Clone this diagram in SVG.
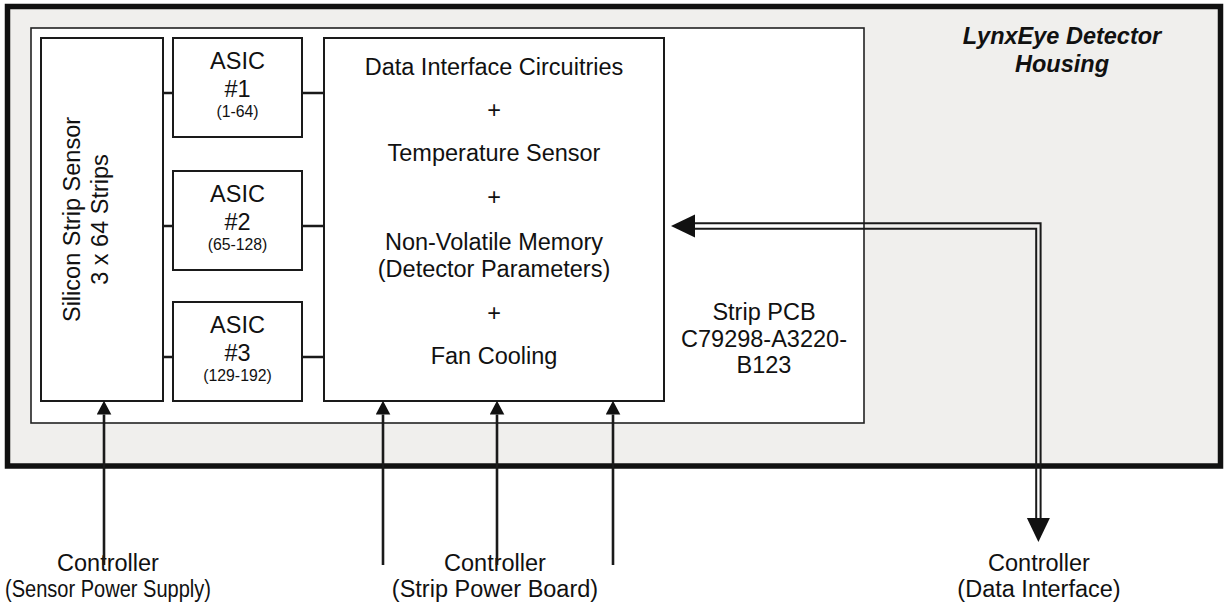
<svg xmlns="http://www.w3.org/2000/svg" width="1227" height="607" viewBox="0 0 1227 607">
<style>
text{font-family:"Liberation Sans",Arial,Helvetica,sans-serif;font-size:23.5px;fill:#111;text-anchor:middle}
.small{font-size:15.8px}
.title{font-weight:bold;font-style:italic}
.box{fill:#fff;stroke:#1a1a1a;stroke-width:2}
.wire{fill:none;stroke:#1a1a1a;stroke-width:2.6}
.dbl{fill:none;stroke:#1a1a1a;stroke-width:2}
.head{fill:#111;stroke:none}
</style>
<defs>
<marker id="arr" markerUnits="userSpaceOnUse" viewBox="0 -7.5 14 15" markerWidth="14" markerHeight="15" refX="0" refY="0" orient="auto">
<path d="M0,-7.3 L13.8,0 L0,7.3 Z" fill="#111"/>
</marker>
</defs>
<g id="housing">
<rect x="7.5" y="6.5" width="1213" height="459.5" fill="#f0efed" stroke="#111" stroke-width="5.5"/>
<text class="title" x="1062" y="44">LynxEye Detector</text>
<text class="title" x="1062" y="72">Housing</text>
</g>
<g id="pcb">
<rect x="31" y="28" width="833" height="395" fill="#fff" stroke="#222" stroke-width="1.6"/>
<text x="764" y="320">Strip PCB</text>
<text x="764" y="346.5">C79298-A3220-</text>
<text x="764" y="373">B123</text>
</g>
<g id="sensor">
<rect class="box" x="41" y="38" width="122" height="363"/>
<text transform="translate(80,219.5) rotate(-90)">Silicon Strip Sensor</text>
<text transform="translate(108,219.5) rotate(-90)">3 x 64 Strips</text>
</g>
<g id="asic1">
<rect class="box" x="173" y="38" width="129" height="99"/>
<text x="237.5" y="69">ASIC</text>
<text x="237.5" y="97">#1</text>
<text class="small" x="237.5" y="117">(1-64)</text>
</g>
<g id="asic2">
<rect class="box" x="173" y="171" width="129" height="99"/>
<text x="237.5" y="202">ASIC</text>
<text x="237.5" y="230">#2</text>
<text class="small" x="237.5" y="250">(65-128)</text>
</g>
<g id="asic3">
<rect class="box" x="173" y="302" width="129" height="99"/>
<text x="237.5" y="333">ASIC</text>
<text x="237.5" y="361">#3</text>
<text class="small" x="237.5" y="381">(129-192)</text>
</g>
<g id="main">
<rect class="box" x="324" y="38" width="340" height="363"/>
<text x="494" y="75">Data Interface Circuitries</text>
<text x="494" y="118">+</text>
<text x="494" y="161">Temperature Sensor</text>
<text x="494" y="205">+</text>
<text x="494" y="250">Non-Volatile Memory</text>
<text x="494" y="277">(Detector Parameters)</text>
<text x="494" y="321">+</text>
<text x="494" y="364">Fan Cooling</text>
</g>
<g id="ctrl-sensor">
<text x="108" y="571">Controller</text>
<text x="108" y="597" textLength="206" lengthAdjust="spacingAndGlyphs">(Sensor Power Supply)</text>
</g>
<g id="ctrl-strip">
<text x="495" y="571">Controller</text>
<text x="495" y="597">(Strip Power Board)</text>
</g>
<g id="ctrl-data">
<text x="1039" y="571">Controller</text>
<text x="1039" y="597">(Data Interface)</text>
</g>
<g id="connectors">
<path class="wire" d="M163,93 H173 M302,93 H324 M163,226 H173 M302,226 H324 M163,357 H173 M302,357 H324"/>
<path class="wire" d="M104,565 V414.5" marker-end="url(#arr)"/>
<path class="wire" d="M383,565 V414.5" marker-end="url(#arr)"/>
<path class="wire" d="M497,565 V414.5" marker-end="url(#arr)"/>
<path class="wire" d="M613,565 V414.5" marker-end="url(#arr)"/>
<path class="dbl" d="M695,223.3 H1040.6 V518"/>
<path class="dbl" d="M695,228.8 H1036.2 V518"/>
<polygon class="head" points="671,226 695,214.5 695,237.5"/>
<polygon class="head" points="1038.4,542 1026.9,518 1049.9,518"/>
</g>
</svg>
